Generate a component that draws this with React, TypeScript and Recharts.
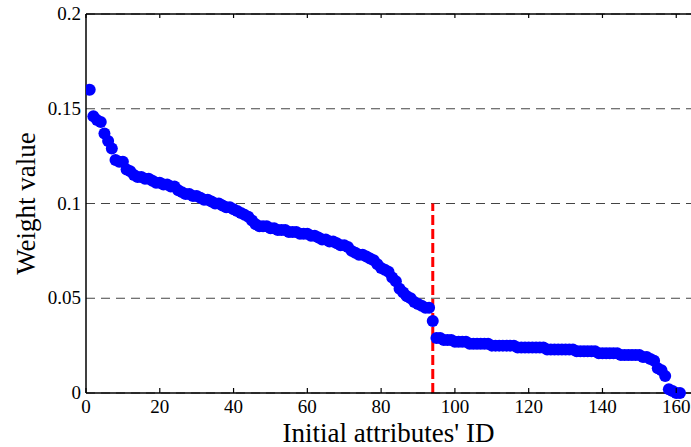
import {
  ScatterChart,
  Scatter,
  XAxis,
  YAxis,
  CartesianGrid,
  ReferenceLine,
} from 'recharts'

// weight of each initial attribute, sorted descending (ID = index + 1)
const WEIGHTS = [
  0.16, 0.146, 0.144, 0.143, 0.137, 0.133, 0.129, 0.123, 0.122, 0.122,
  0.118, 0.117, 0.115, 0.114, 0.114, 0.113, 0.113, 0.112, 0.111, 0.111,
  0.11, 0.11, 0.109, 0.109, 0.107, 0.106, 0.105, 0.105, 0.104, 0.104,
  0.103, 0.102, 0.102, 0.101, 0.1, 0.1, 0.099, 0.098, 0.098, 0.097,
  0.096, 0.095, 0.094, 0.093, 0.091, 0.089, 0.088, 0.088, 0.088, 0.087,
  0.087, 0.086, 0.086, 0.086, 0.085, 0.085, 0.085, 0.084, 0.084, 0.084,
  0.083, 0.083, 0.082, 0.081, 0.081, 0.08, 0.08, 0.079, 0.078, 0.078,
  0.077, 0.075, 0.074, 0.073, 0.073, 0.072, 0.071, 0.07, 0.068, 0.066,
  0.065, 0.064, 0.061, 0.059, 0.055, 0.053, 0.051, 0.05, 0.048, 0.047,
  0.046, 0.045, 0.045, 0.038, 0.029, 0.029, 0.028, 0.028, 0.028, 0.027,
  0.027, 0.027, 0.027, 0.026, 0.026, 0.026, 0.026, 0.026, 0.026, 0.025,
  0.025, 0.025, 0.025, 0.025, 0.025, 0.025, 0.024, 0.024, 0.024, 0.024,
  0.024, 0.024, 0.024, 0.024, 0.023, 0.023, 0.023, 0.023, 0.023, 0.023,
  0.023, 0.023, 0.022, 0.022, 0.022, 0.022, 0.022, 0.022, 0.021, 0.021,
  0.021, 0.021, 0.021, 0.021, 0.02, 0.02, 0.02, 0.02, 0.02, 0.02,
  0.019, 0.019, 0.018, 0.017, 0.013, 0.012, 0.009, 0.002, 0.001, 0.0,
  0.0,
]

const X_TICKS = [0, 20, 40, 60, 80, 100, 120, 140, 160]
const Y_TICKS = [0, 0.05, 0.1, 0.15, 0.2]
const CUTOFF_ID = 94
const CUTOFF_TOP = 0.1

const points = WEIGHTS.map((w, i) => ({ id: i + 1, weight: w }))

const FONT = '"Liberation Serif", "DejaVu Serif", serif'

function Dot(props: any) {
  return <circle cx={props.cx} cy={props.cy} r={6} fill="#0000ff" />
}

// bottom tick: short inward mark plus the label below the axis
function XTick(props: any) {
  const { x, payload } = props
  return (
    <g>
      <line x1={x} x2={x} y1={393} y2={388} stroke="#000" strokeWidth={1.2} />
      <line x1={x} x2={x} y1={14} y2={18} stroke="#000" strokeWidth={1.2} />
      <text x={x} y={413} textAnchor="middle" fontSize={19} fontFamily={FONT} fill="#000">
        {payload.value}
      </text>
    </g>
  )
}

function YTick(props: any) {
  const { x, y, payload } = props
  return (
    <text x={x} y={y + 6} textAnchor="end" fontSize={19} fontFamily={FONT} fill="#000">
      {payload.value}
    </text>
  )
}

export default function App() {
  return (
    <div style={{ position: 'absolute', left: 0, top: 0, background: '#fff', fontFamily: FONT }}>
      <ScatterChart
        width={691}
        height={447}
        margin={{ top: 14, right: 0, bottom: 0, left: 0 }}
      >
        <CartesianGrid
          vertical={false}
          stroke="#444"
          strokeDasharray="9 6"
        />
        <XAxis
          type="number"
          dataKey="id"
          domain={[0, 164]}
          ticks={X_TICKS}
          allowDataOverflow
          height={54}
          stroke="#000"
          strokeWidth={1.5}
          tickLine={false}
          tick={<XTick />}
          label={{
            value: "Initial attributes' ID",
            position: 'insideBottom',
            offset: 5,
            style: { fontSize: 27, fill: '#000', fontFamily: FONT },
          }}
        />
        <YAxis
          type="number"
          dataKey="weight"
          domain={[0, 0.2]}
          ticks={Y_TICKS}
          width={86}
          stroke="#000"
          strokeWidth={1.5}
          tickLine={false}
          tickSize={0}
          tickMargin={5}
          tick={<YTick />}
          label={{
            value: 'Weight value',
            angle: -90,
            position: 'insideLeft',
            offset: 25,
            style: { fontSize: 27, fill: '#000', fontFamily: FONT, textAnchor: 'middle' },
          }}
        />
        <ReferenceLine y={0.2} stroke="#000" strokeWidth={1.5} />
        <Scatter
          data={points}
          shape={<Dot />}
          isAnimationActive={false}
        />
        <ReferenceLine
          segment={[
            { x: CUTOFF_ID, y: 0 },
            { x: CUTOFF_ID, y: CUTOFF_TOP },
          ]}
          stroke="#ff0000"
          strokeWidth={3}
          strokeDasharray="10 4"
        />
      </ScatterChart>
    </div>
  )
}
